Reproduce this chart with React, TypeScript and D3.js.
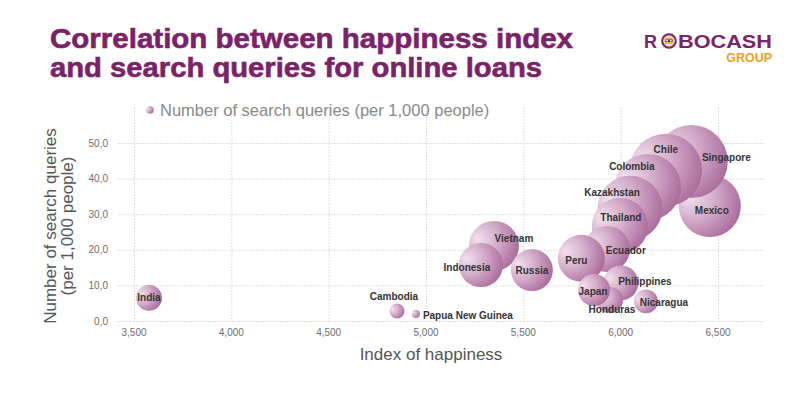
import React from 'react';
import * as d3 from 'd3';

// ---- data ----
const countries = [
  'India', 'Cambodia', 'Papua New Guinea', 'Vietnam', 'Indonesia', 'Russia',
  'Mexico', 'Singapore', 'Chile', 'Colombia', 'Kazakhstan', 'Thailand',
  'Ecuador', 'Peru', 'Philippines', 'Honduras', 'Japan', 'Nicaragua',
];
// Index of happiness (x)
const happiness = [
  3577, 4851, 4948, 5349, 5282, 5544,
  6458, 6363, 6232, 6140, 6048, 5996,
  5929, 5798, 6001, 5945, 5863, 6130,
];
// Number of search queries per 1,000 people (y)
const queries = [
  6.5, 2.8, 2.0, 21.1, 15.7, 14.3,
  32.3, 44.8, 42.4, 37.6, 31.7, 26.7,
  20.2, 17.6, 10.7, 5.9, 8.7, 5.5,
];
// bubble size values
const bubbleSize = [
  5.8, 1.9, 0.55, 21.4, 16.6, 15.1,
  33, 45.5, 45, 37.5, 36, 27,
  18.1, 18.9, 10.5, 5.8, 8.8, 4.9,
];
const xTicks = [3500, 4000, 4500, 5000, 5500, 6000, 6500];
const yTicks = [0, 10, 20, 30, 40, 50];

// label placement (layout only): dx, dy, anchor
const labelLayout: Record<string, [number, number, string]> = {
  India: [0, 0, 'middle'],
  Cambodia: [-3, -15, 'middle'],
  'Papua New Guinea': [7, 2, 'start'],
  Vietnam: [20, -7, 'middle'],
  Indonesia: [-14, 2, 'middle'],
  Russia: [0, 0, 'middle'],
  Mexico: [2, 4, 'middle'],
  Singapore: [35, -4, 'middle'],
  Chile: [0, -21, 'middle'],
  Colombia: [-16, -21, 'middle'],
  Kazakhstan: [-18, -16, 'middle'],
  Thailand: [1, -8, 'middle'],
  Ecuador: [19, 1, 'middle'],
  Peru: [-5, 2, 'middle'],
  Philippines: [24, -1, 'middle'],
  Honduras: [2, 10, 'middle'],
  Japan: [-1, 1, 'middle'],
  Nicaragua: [18, 1, 'middle'],
};

const W = 800;
const H = 394;
const FONT = "'Liberation Sans', Arial, Helvetica, sans-serif";
const PURPLE = '#7b2268';

export default function App() {
  const x = d3.scaleLinear().domain([3500, 6500]).range([134, 718]);
  const y = d3.scaleLinear().domain([0, 50]).range([321, 143]);
  const r = d3.scaleSqrt().domain([0, 50]).range([0, 5.4 * Math.sqrt(50)]);
  const fx = d3.format(',');
  const fy = (v: number) => d3.format('.1f')(v).replace('.', ',');

  const gridLeft = x(3418);
  const gridRight = x(6736);
  const gridTop = y(60);

  return (
    <svg
      width={W}
      height={H}
      style={{ position: 'absolute', left: 0, top: 0, background: '#fff' }}
      fontFamily={FONT}
    >
      <defs>
        <radialGradient id="bub" cx="0.3" cy="0.38" r="0.78" fx="0.16" fy="0.35">
          <stop offset="0" stopColor="#f1e2ed" />
          <stop offset="0.45" stopColor="#d5aecb" />
          <stop offset="1" stopColor="#a66498" />
        </radialGradient>
      </defs>
      <rect x={0} y={0} width={W} height={H} fill="#fff" />

      {/* title */}
      <g fontFamily={FONT} fontWeight="bold" fontSize={27.5} fill={PURPLE} stroke={PURPLE} strokeWidth={0.6}>
        <text x={50} y={48} textLength={523} lengthAdjust="spacingAndGlyphs">
          Correlation between happiness index
        </text>
        <text x={50} y={77} textLength={492} lengthAdjust="spacingAndGlyphs">
          and search queries for online loans
        </text>
      </g>

      {/* logo */}
      <g>
        <text x={644} y={48} fontWeight="bold" fontSize={18} fill={PURPLE}
          textLength={13} lengthAdjust="spacingAndGlyphs">R</text>
        <circle cx={669} cy={41} r={7.8} fill={PURPLE} />
        <circle cx={669} cy={41} r={5.8} fill="#eadce6" />
        <rect x={664.5} y={37.5} width={9} height={6.5} rx={1.2} fill="#f1b43c" />
        <rect x={665.5} y={39.5} width={7} height={2.5} fill="#2f3f70" />
        <circle cx={667.2} cy={40.7} r={0.9} fill="#fff" />
        <circle cx={670.8} cy={40.7} r={0.9} fill="#fff" />
        <text x={678} y={48} fontWeight="bold" fontSize={18} fill={PURPLE}
          textLength={94} lengthAdjust="spacingAndGlyphs">BOCASH</text>
        <text x={772} y={62} textAnchor="end" fontWeight="bold" fontSize={12.5} fill="#f0a21c">GROUP</text>
      </g>

      {/* grid */}
      <g stroke="#d6d6d6" strokeWidth={1} strokeDasharray="1.5,1.5" fill="none">
        {yTicks.map((t) => (
          <line key={'h' + t} x1={gridLeft} x2={gridRight} y1={y(t) + 0.5} y2={y(t) + 0.5} />
        ))}
        {xTicks.map((t) => (
          <line key={'v' + t} x1={x(t) + 0.5} x2={x(t) + 0.5} y1={gridTop} y2={y(0)} />
        ))}
      </g>

      {/* tick labels */}
      <g fontSize={10} fill="#6e6e6e">
        {xTicks.map((t) => (
          <text key={'xl' + t} x={x(t)} y={336} textAnchor="middle">{fx(t)}</text>
        ))}
        {yTicks.map((t) => (
          <text key={'yl' + t} x={108} y={y(t) + 3.5} textAnchor="end">{fy(t)}</text>
        ))}
      </g>

      {/* axis titles */}
      <text x={431} y={360} textAnchor="middle" fontSize={17} fill="#555">Index of happiness</text>
      <g transform="translate(0,226) rotate(-90)" fontSize={17} fill="#555" textAnchor="middle">
        <text x={0} y={56}>Number of search queries</text>
        <text x={0} y={73}>(per 1,000 people)</text>
      </g>

      {/* legend */}
      <circle cx={150} cy={110} r={3.8} fill="url(#bub)" />
      <text x={160} y={115.5} fontSize={16.5} fill="#8a8a8a">Number of search queries (per 1,000 people)</text>

      {/* bubbles */}
      <g>
        {countries.map((c, i) => (
          <circle key={c} cx={x(happiness[i])} cy={y(queries[i])} r={r(bubbleSize[i])} fill="url(#bub)" />
        ))}
      </g>

      {/* labels */}
      <g fontSize={10} fontWeight="bold" fill="#333">
        {countries.map((c, i) => {
          const [dx, dy, anchor] = labelLayout[c];
          return (
            <text key={'l' + c} x={x(happiness[i]) + dx} y={y(queries[i]) + dy}
              textAnchor={anchor} dominantBaseline="central">{c}</text>
          );
        })}
      </g>
    </svg>
  );
}
